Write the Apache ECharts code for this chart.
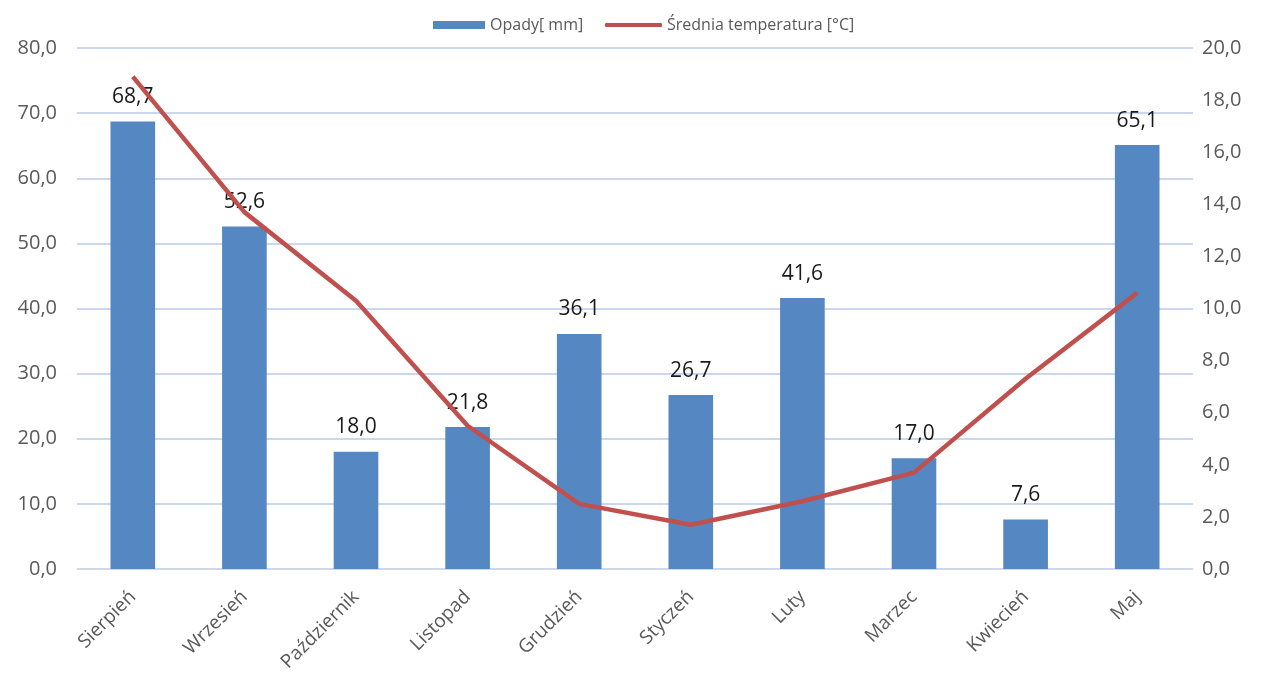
<!DOCTYPE html>
<html lang="pl" style="height: 100%">
  <head>
    <meta charset="utf-8" />
  </head>
  <body style="height: 100%; margin: 0; background: #fff">
    <div id="container" style="width: 1263px; height: 679px"></div>

    <script src="https://fastly.jsdelivr.net/npm/echarts@6/dist/echarts.min.js"></script>

    <script type="text/javascript">
      var months = ["Sierpień","Wrzesień","Październik","Listopad","Grudzień","Styczeń","Luty","Marzec","Kwiecień","Maj"];
      var rain = [68.7, 52.6, 18.0, 21.8, 36.1, 26.7, 41.6, 17.0, 7.6, 65.1];
      var temp = [18.9, 13.7, 10.3, 5.5, 2.5, 1.7, 2.6, 3.7, 7.3, 10.6];

      function pl(v) {
        return Number(v).toFixed(1).replace(".", ",");
      }

      var myChart = echarts.init(document.getElementById("container"), null, {
        renderer: "canvas",
      });

      var font = "'Open Sans', sans-serif";
      var legendText = { fontSize: 16, color: "#595959", fontFamily: font };

      var option = {
        animation: false,
        textStyle: { fontFamily: font },
        // two legends so the bar and line keys can have different heights
        legend: [
          {
            left: 428,
            top: 12,
            itemWidth: 52,
            itemHeight: 8,
            textStyle: legendText,
            data: [{ name: "Opady[ mm]", icon: "rect" }],
          },
          {
            left: 600,
            top: 12,
            itemWidth: 57,
            itemHeight: 4,
            textStyle: legendText,
            data: [{ name: "Średnia temperatura [°C]", icon: "roundRect" }],
          },
        ],
        grid: { left: 77, right: 70, top: 48, bottom: 110 },
        xAxis: {
          type: "category",
          data: months,
          axisLine: { lineStyle: { color: "#d9d9d9" } },
          axisTick: { show: false },
          axisLabel: {
            rotate: 45,
            margin: 25,
            fontSize: 19,
            color: "#595959",
            fontFamily: font,
          },
        },
        yAxis: [
          {
            type: "value",
            min: 0,
            max: 80,
            interval: 10,
            axisLine: { show: false },
            axisTick: { show: false },
            splitLine: { lineStyle: { color: "#b8cae8", width: 1.5 } },
            axisLabel: {
              formatter: pl,
              margin: 20,
              fontSize: 20,
              color: "#595959",
              fontFamily: font,
            },
          },
          {
            type: "value",
            min: 0,
            max: 20,
            interval: 2,
            position: "right",
            axisLine: { show: false },
            axisTick: { show: false },
            splitLine: { show: false },
            axisLabel: {
              formatter: pl,
              margin: 9,
              fontSize: 20,
              color: "#595959",
              fontFamily: font,
            },
          },
        ],
        series: [
          {
            name: "Opady[ mm]",
            type: "bar",
            data: rain,
            barWidth: "40%",
            itemStyle: { color: "#5588c2" },
            label: {
              show: true,
              position: "top",
              distance: 14,
              formatter: function (p) {
                return pl(p.value);
              },
              fontSize: 21,
              color: "#1a1a1a",
              fontFamily: font,
            },
          },
          {
            name: "Średnia temperatura [°C]",
            type: "line",
            yAxisIndex: 1,
            data: temp,
            symbol: "none",
            lineStyle: { color: "#c0504d", width: 4.5 },
            itemStyle: { color: "#c0504d" },
          },
        ],
      };

      myChart.setOption(option);
    </script>
  </body>
</html>
